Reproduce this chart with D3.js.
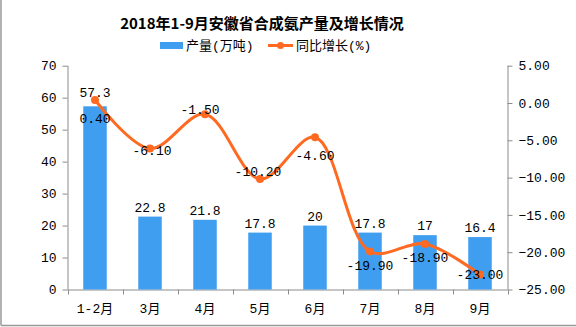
<!DOCTYPE html>
<html><head><meta charset="utf-8">
<script src="https://cdn.jsdelivr.net/npm/d3@7"></script>
<style>body{margin:0;background:#fff}svg{display:block}</style>
</head><body>
<script>
const categories = ["1-2月","3月","4月","5月","6月","7月","8月","9月"];
const output = [57.3, 22.8, 21.8, 17.8, 20, 17.8, 17, 16.4];
const growth = [0.40, -6.10, -1.50, -10.20, -4.60, -19.90, -18.90, -23.00];
const leftTicks = [0,10,20,30,40,50,60,70];
const rightTicks = [5,0,-5,-10,-15,-20,-25];
// label placement hints (style)
const outputLabelLift = [9, 5, 5, 5, 5, 5, 5, 5];
const growthLabelDy = [18, 1, -5, -8, 18, 14, 13, -1];
const growthLabelDx = [0, 2, -5, -2, 0, 0, 0, 0];

const W=576,H=327;
const svg=d3.select("body").append("svg").attr("width",W).attr("height",H);
const font="'Liberation Mono','Noto Sans CJK SC',monospace";
const blue="#3F9EF0", orange="#FF6A22", axisC="#8c8c8c";

// border
svg.append("line").attr("x1",1).attr("x2",1).attr("y1",0).attr("y2",325.5).attr("stroke","#999").attr("stroke-width",1.5);
svg.append("line").attr("x1",1).attr("x2",W).attr("y1",325.5).attr("y2",325.5).attr("stroke","#999").attr("stroke-width",1.5);

const x0=67.5,x1=507.5,yTop=65.7,yBot=289.5;
const x=d3.scaleBand().domain(categories).range([x0,x1]);
const yL=d3.scaleLinear().domain([0,70]).range([yBot,yTop]);
const yR=d3.scaleLinear().domain([-25,5]).range([yBot,yTop]);

// title
svg.append("text").attr("x",262).attr("y",29).attr("text-anchor","middle")
 .attr("font-family","'Noto Sans CJK SC',sans-serif").attr("font-weight","bold").attr("font-size",15)
 .text("2018年1-9月安徽省合成氨产量及增长情况");

// legend
const lg=svg.append("g").attr("font-family",font).attr("font-size",13);
lg.append("rect").attr("x",160).attr("y",42).attr("width",23).attr("height",7).attr("fill",blue);
lg.append("text").attr("x",186).attr("y",50).text("产量(万吨)");
lg.append("line").attr("x1",268).attr("x2",293).attr("y1",45.5).attr("y2",45.5).attr("stroke",orange).attr("stroke-width",3);
lg.append("circle").attr("cx",280.5).attr("cy",45.5).attr("r",3.5).attr("fill",orange);
lg.append("text").attr("x",296).attr("y",50).text("同比增长(%)");

// axes
const axL=d3.axisLeft(yL).tickValues(leftTicks).tickSize(5).tickPadding(6).tickFormat(d3.format("d"));
const gL=svg.append("g").attr("transform",`translate(${x0},0)`).call(axL);
const axR=d3.axisRight(yR).tickValues(rightTicks).tickSize(5).tickPadding(6).tickFormat(d3.format(".2f"));
const gR=svg.append("g").attr("transform",`translate(${x1},0)`).call(axR);
const axB=d3.axisBottom(x).tickSize(0).tickPadding(14);
const gB=svg.append("g").attr("transform",`translate(0,${yBot})`).call(axB);
const bounds=categories.map(c=>x(c)).concat([x1]);
gB.selectAll(".bt").data(bounds).enter().append("line").attr("class","bt")
 .attr("x1",d=>Math.round(d)+0.5).attr("x2",d=>Math.round(d)+0.5).attr("y1",0).attr("y2",5).attr("stroke",axisC);
[gL,gR,gB].forEach(g=>{
  g.selectAll(".domain").attr("stroke",axisC);
  g.selectAll(".tick line").attr("stroke",axisC);
  g.selectAll("text").attr("font-family",font).attr("font-size",13).attr("fill","#000");
});
gB.select(".domain").attr("d",`M${x0},0.5H${x1}`);
gL.select(".domain").attr("d",`M0.5,${yTop}V${yBot}`);
gR.select(".domain").attr("d",`M0.5,${yTop}V${yBot}`);

// bars
const bw=23.5;
svg.append("g").selectAll("rect").data(output).enter().append("rect")
 .attr("x",(d,i)=>x(categories[i])+x.bandwidth()/2-bw/2).attr("width",bw)
 .attr("y",d=>yL(d)).attr("height",d=>yBot-yL(d)).attr("fill",blue);
svg.append("g").selectAll("text").data(output).enter().append("text")
 .attr("x",(d,i)=>x(categories[i])+x.bandwidth()/2).attr("y",(d,i)=>yL(d)-outputLabelLift[i])
 .attr("text-anchor","middle").attr("font-family",font).attr("font-size",13).text(d=>d);

// line
const cx=i=>x(categories[i])+x.bandwidth()/2;
const line=d3.line().x((d,i)=>cx(i)).y(d=>yR(d)).curve(d3.curveCatmullRom.alpha(0.5));
svg.append("path").datum(growth).attr("d",line).attr("fill","none").attr("stroke",orange).attr("stroke-width",3);
svg.append("g").selectAll("circle").data(growth).enter().append("circle")
 .attr("cx",(d,i)=>cx(i)).attr("cy",d=>yR(d)).attr("r",4).attr("fill",orange);
svg.append("g").selectAll("text").data(growth).enter().append("text")
 .attr("x",(d,i)=>cx(i)+growthLabelDx[i]).attr("y",(d,i)=>yR(d)+growthLabelDy[i]+5)
 .attr("text-anchor","middle").attr("font-family",font).attr("font-size",13).text(d=>d.toFixed(2));
</script>
</body></html>
